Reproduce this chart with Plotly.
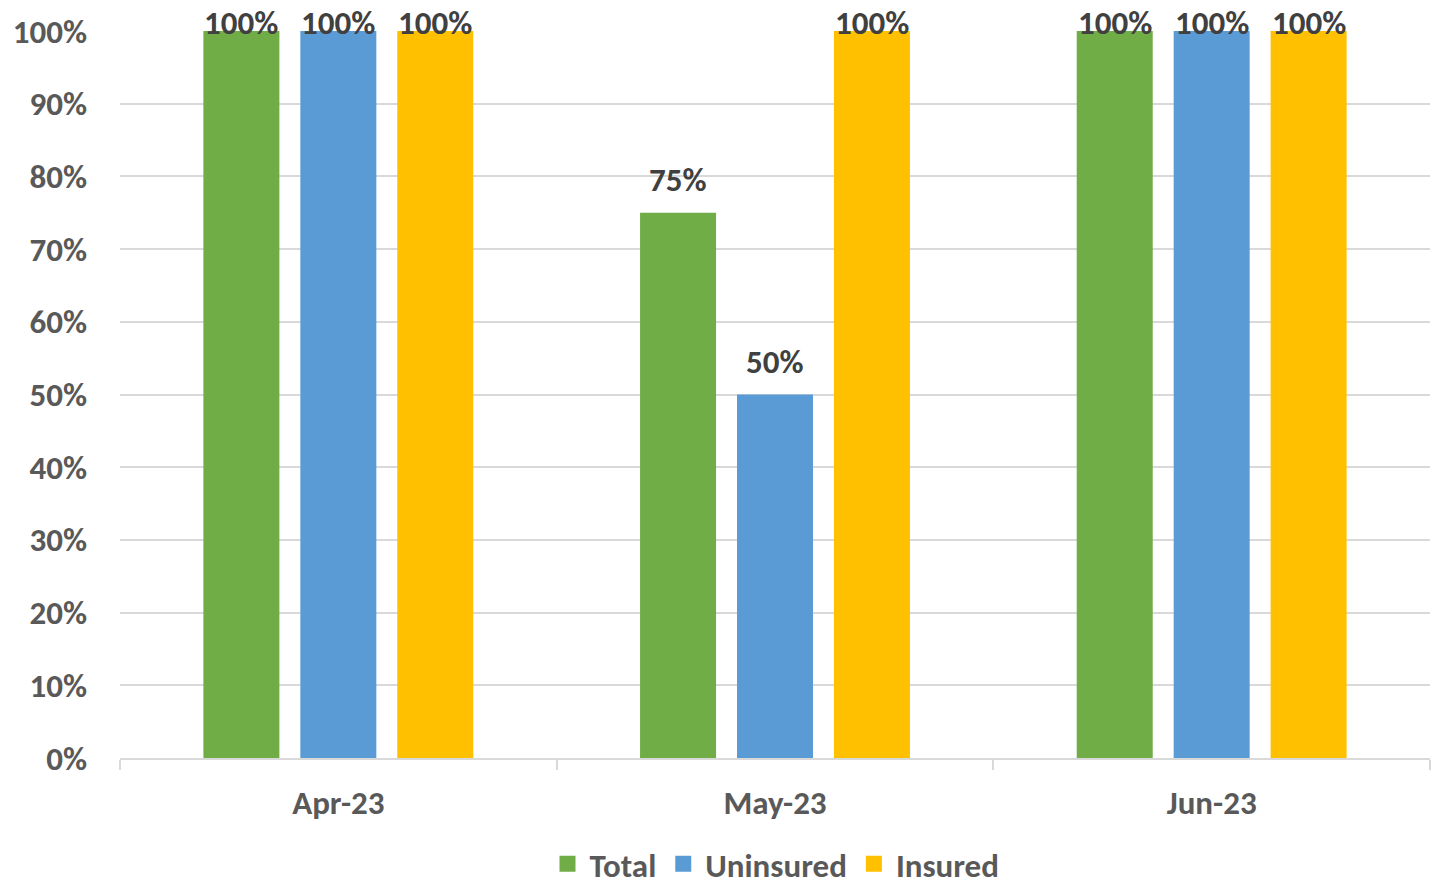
import plotly.graph_objects as go

categories = ["Apr-23", "May-23", "Jun-23"]
total = [1.00, 0.75, 1.00]
uninsured = [1.00, 0.50, 1.00]
insured = [1.00, 1.00, 1.00]
series_names = ["Total", "Uninsured", "Insured"]
colors = ["#70AD47", "#5B9BD5", "#FFC000"]
y_ticks = [i / 10 for i in range(11)]
y_tick_text = [f"{i*10}%" for i in range(11)]

FONT = "Carlito, Lato, 'Open Sans', sans-serif"
FS = 33

fig = go.Figure()
for name, vals, col in zip(series_names, [total, uninsured, insured], colors):
    fig.add_trace(go.Bar(x=categories, y=vals, name=name, showlegend=False, cliponaxis=False,
                         marker=dict(color=col, line=dict(width=0))))
# legend entries with square swatches
for name, col in zip(series_names, colors):
    fig.add_trace(go.Scatter(x=[None], y=[None], mode="markers", name=name,
                             marker=dict(symbol="square", size=20, color=col)))

# data labels
slot = 0.2222
for j, vals in enumerate([total, uninsured, insured]):
    for i, v in enumerate(vals):
        fig.add_annotation(
            x=i + (j - 1) * slot, y=v, xref="x", yref="y",
            text=f"{round(v*100)}%", showarrow=False,
            yanchor="middle", yshift=8 if v >= 0.999 else 33,
            font=dict(family=FONT, size=FS, color="#404040", weight="bold"),
        )

fig.update_layout(
    width=1431, height=881,
    margin=dict(l=112, r=9, t=23, b=131, autoexpand=False),
    plot_bgcolor="white", paper_bgcolor="white",
    barmode="group", bargap=0.334, bargroupgap=0.216,
    font=dict(family=FONT, size=FS, color="#595959", weight="bold"),
    legend=dict(orientation="h", x=0.5, xanchor="center", xref="paper",
                y=-0.107, yanchor="top", font=dict(size=33, color="#595959", weight="bold"),
                itemsizing="trace", itemwidth=34, tracegroupgap=0),
    showlegend=True,
)
fig.update_yaxes(range=[0, 1], tickvals=y_ticks, ticktext=y_tick_text, automargin=False,
                 showgrid=True, gridcolor="#D9D9D9", gridwidth=2,
                 zeroline=False, showline=False, ticks="", ticklabelstandoff=32,
                 tickfont=dict(size=FS, color="#595959", weight="bold"))
fig.update_xaxes(type="category", showline=True, linecolor="#D9D9D9", linewidth=2, automargin=False,
                 ticks="outside", tickson="boundaries", ticklen=10, tickcolor="#D9D9D9", tickwidth=2,
                 ticklabelstandoff=14,
                 tickfont=dict(size=FS, color="#595959", weight="bold"))

fig.write_html("out.html")
